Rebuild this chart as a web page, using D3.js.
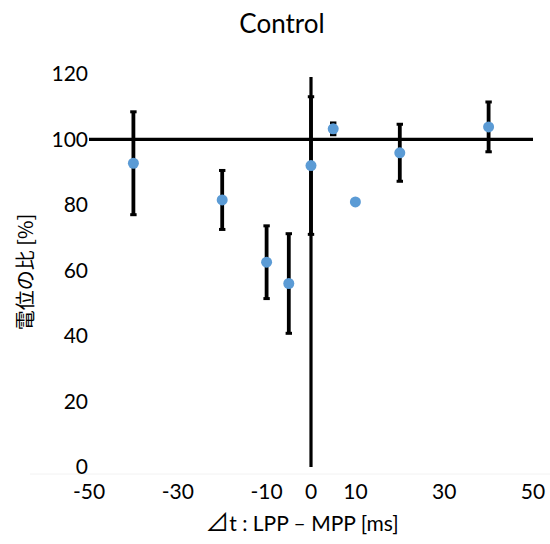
<!DOCTYPE html>
<html>
<head>
<meta charset="UTF-8">
<title>Control</title>
<style>
  body { margin: 0; background: #fff; }
  text { font-family: Lato, "Noto Sans", sans-serif; fill: #000; }
  .cjk { font-family: "Noto Sans CJK JP", sans-serif; }
</style>
</head>
<body>
<svg id="chart"></svg>
<script src="https://d3js.org/d3.v7.min.js"></script>
<script>
// data
var dt = [-40, -20, -10, -5, 0, 5, 10, 20, 40];
var ratio = [92.7, 81.5, 62.5, 56.0, 92.0, 103.2, 80.9, 95.9, 103.8];
var err = [15.7, 9.0, 11.1, 15.2, 21.0, 1.8, 0, 8.7, 7.6];
var xTicks = [-50, -30, -10, 0, 10, 30, 50];
var yTicks = [0, 20, 40, 60, 80, 100, 120];

var W = 550, H = 544;
var svg = d3.select("#chart").attr("width", W).attr("height", H);

// scales
var x = d3.scaleLinear().domain([-50, 50]).range([89, 533]);
var y = d3.scaleLinear().domain([0, 120]).range([467, 73.8]);

// title
svg.append("text")
  .attr("x", 282).attr("y", 33)
  .attr("text-anchor", "middle")
  .style("font-size", "26px")
  .text("Control");

// faint bottom line
svg.append("line")
  .attr("x1", 30).attr("x2", W)
  .attr("y1", 474).attr("y2", 474)
  .attr("stroke", "#f2f2f2").attr("stroke-width", 1);

// y tick labels (axis labels sit at the left)
svg.append("g").selectAll("text")
  .data(yTicks).enter().append("text")
  .attr("x", 88)
  .attr("y", function(d) { return y(d); })
  .attr("dy", "0.35em")
  .attr("text-anchor", "end")
  .style("font-size", "21px")
  .text(function(d) { return d; });

// x tick labels (at the bottom)
svg.append("g").selectAll("text")
  .data(xTicks).enter().append("text")
  .attr("x", function(d) { return x(d); })
  .attr("y", 492)
  .attr("dy", "0.35em")
  .attr("text-anchor", "middle")
  .style("font-size", "21px")
  .text(function(d) { return d; });

// horizontal axis, crossing at 100
svg.append("line")
  .attr("x1", x(-50)).attr("x2", x(50))
  .attr("y1", y(100)).attr("y2", y(100))
  .attr("stroke", "#000").attr("stroke-width", 3.2);

// vertical axis, crossing at 0
svg.append("line")
  .attr("x1", x(0)).attr("x2", x(0))
  .attr("y1", y(0)).attr("y2", y(119))
  .attr("stroke", "#000").attr("stroke-width", 3.2);

var pts = dt.map(function(d, i) { return {x: d, v: ratio[i], e: err[i]}; });

// error bars
var eb = svg.append("g").selectAll("g")
  .data(pts.filter(function(d) { return d.e > 0; }))
  .enter().append("g");
eb.append("line")
  .attr("x1", function(d) { return x(d.x); })
  .attr("x2", function(d) { return x(d.x); })
  .attr("y1", function(d) { return y(d.v - d.e); })
  .attr("y2", function(d) { return y(d.v + d.e); })
  .attr("stroke", "#000").attr("stroke-width", 3.8);
[-1, 1].forEach(function(s) {
  eb.append("line")
    .attr("x1", function(d) { return x(d.x) - 3.2; })
    .attr("x2", function(d) { return x(d.x) + 3.2; })
    .attr("y1", function(d) { return y(d.v + s * d.e); })
    .attr("y2", function(d) { return y(d.v + s * d.e); })
    .attr("stroke", "#000").attr("stroke-width", 3);
});

// points
svg.append("g").selectAll("circle")
  .data(pts).enter().append("circle")
  .attr("cx", function(d) { return x(d.x); })
  .attr("cy", function(d) { return y(d.v); })
  .attr("r", 5.5)
  .attr("fill", "#5b9bd5");

// axis titles
var xt = svg.append("text")
  .attr("x", 302).attr("y", 524)
  .attr("dy", "0.35em")
  .attr("text-anchor", "middle")
  .style("font-size", "21px");
xt.append("tspan").attr("class", "cjk").style("font-size", "24px").text("⊿");
xt.append("tspan").text("t : LPP – MPP [ms]");

svg.append("text")
  .attr("class", "cjk")
  .attr("transform", "translate(26,272) rotate(-90)")
  .attr("dy", "0.35em")
  .attr("text-anchor", "middle")
  .style("font-size", "20px")
  .text("電位の比 [%]");
</script>
</body>
</html>
